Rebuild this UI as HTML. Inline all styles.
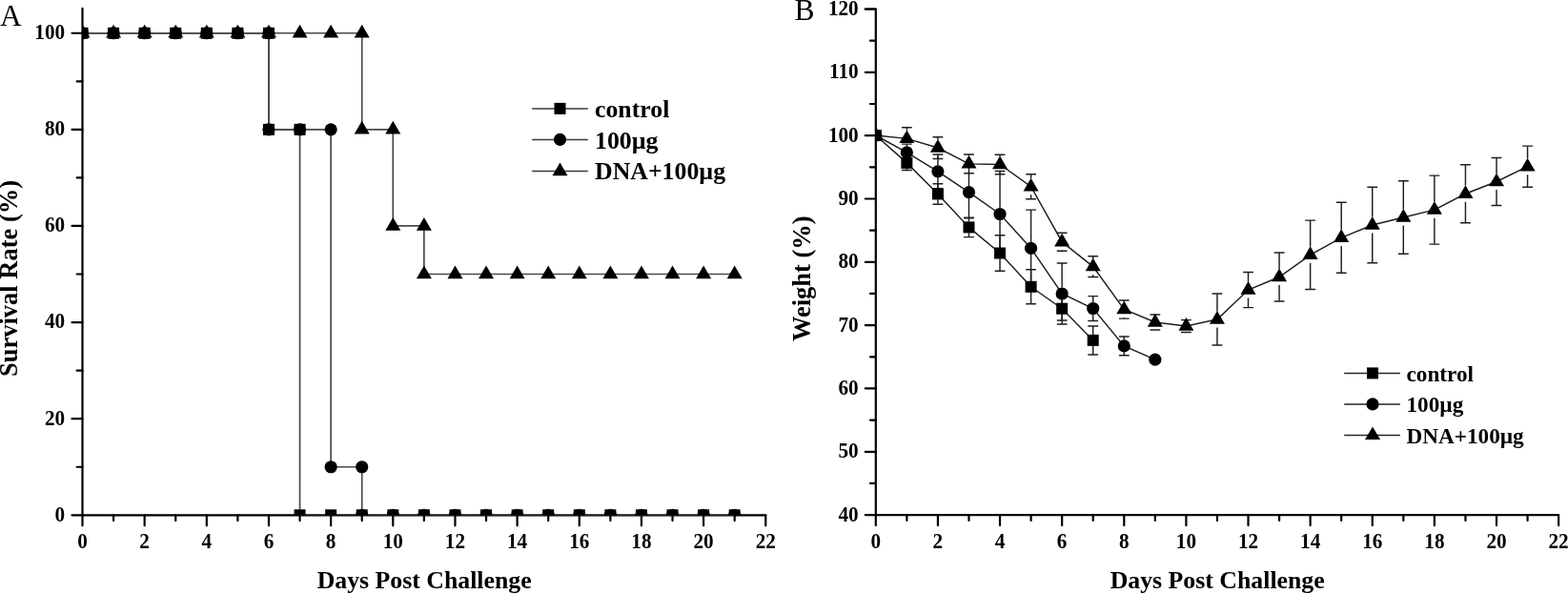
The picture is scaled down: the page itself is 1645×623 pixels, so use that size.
<!DOCTYPE html>
<html><head><meta charset="utf-8"><title>Survival and weight</title>
<style>
html,body{margin:0;padding:0;background:#fff;}
body{width:1645px;height:623px;overflow:hidden;}
svg{display:block;}
text{font-family:"Liberation Serif","Times New Roman",serif;fill:#000;}
.b{font-weight:bold;}
</style></head><body>
<svg width="1645" height="623" viewBox="0 0 1645 623">
<defs>
<clipPath id="clipA"><rect x="86.5" y="0" width="760" height="540.3"/></clipPath>
<clipPath id="clipB"><rect x="918.8" y="0" width="760" height="540.1"/></clipPath>
</defs>

<g fill="none" stroke="#000" stroke-width="2.2" stroke-linecap="round" stroke-linejoin="round">
<path d="M86.5,8.8 V540.3 H803.26"/>
<path d="M75.5,540.3 H86.5"/>
<path d="M80.7,489.74 H86.5"/>
<path d="M75.5,439.19 H86.5"/>
<path d="M80.7,388.63 H86.5"/>
<path d="M75.5,338.08 H86.5"/>
<path d="M80.7,287.52 H86.5"/>
<path d="M75.5,236.97 H86.5"/>
<path d="M80.7,186.41 H86.5"/>
<path d="M75.5,135.86 H86.5"/>
<path d="M80.7,85.3 H86.5"/>
<path d="M75.5,34.75 H86.5"/>
<path d="M86.5,540.3 V551.3"/>
<path d="M119.08,540.3 V546.1"/>
<path d="M151.66,540.3 V551.3"/>
<path d="M184.24,540.3 V546.1"/>
<path d="M216.82,540.3 V551.3"/>
<path d="M249.4,540.3 V546.1"/>
<path d="M281.98,540.3 V551.3"/>
<path d="M314.56,540.3 V546.1"/>
<path d="M347.14,540.3 V551.3"/>
<path d="M379.72,540.3 V546.1"/>
<path d="M412.3,540.3 V551.3"/>
<path d="M444.88,540.3 V546.1"/>
<path d="M477.46,540.3 V551.3"/>
<path d="M510.04,540.3 V546.1"/>
<path d="M542.62,540.3 V551.3"/>
<path d="M575.2,540.3 V546.1"/>
<path d="M607.78,540.3 V551.3"/>
<path d="M640.36,540.3 V546.1"/>
<path d="M672.94,540.3 V551.3"/>
<path d="M705.52,540.3 V546.1"/>
<path d="M738.1,540.3 V551.3"/>
<path d="M770.68,540.3 V546.1"/>
<path d="M803.26,540.3 V551.3"/>
</g>
<g class="b" font-size="22" text-anchor="end">
<text transform="translate(68.1,546.7) scale(0.965,1.06)">0</text>
<text transform="translate(68.1,445.59) scale(0.965,1.06)">20</text>
<text transform="translate(68.1,344.48) scale(0.965,1.06)">40</text>
<text transform="translate(68.1,243.37) scale(0.965,1.06)">60</text>
<text transform="translate(68.1,142.26) scale(0.965,1.06)">80</text>
<text transform="translate(68.1,41.15) scale(0.965,1.06)">100</text>
</g>
<g class="b" font-size="22" text-anchor="middle">
<text transform="translate(86.5,574.7) scale(0.965,1.06)">0</text>
<text transform="translate(151.66,574.7) scale(0.965,1.06)">2</text>
<text transform="translate(216.82,574.7) scale(0.965,1.06)">4</text>
<text transform="translate(281.98,574.7) scale(0.965,1.06)">6</text>
<text transform="translate(347.14,574.7) scale(0.965,1.06)">8</text>
<text transform="translate(412.3,574.7) scale(0.965,1.06)">10</text>
<text transform="translate(477.46,574.7) scale(0.965,1.06)">12</text>
<text transform="translate(542.62,574.7) scale(0.965,1.06)">14</text>
<text transform="translate(607.78,574.7) scale(0.965,1.06)">16</text>
<text transform="translate(672.94,574.7) scale(0.965,1.06)">18</text>
<text transform="translate(738.1,574.7) scale(0.965,1.06)">20</text>
<text transform="translate(803.26,574.7) scale(0.965,1.06)">22</text>
</g>
<text class="b" font-size="25.8" x="445.15" y="616.9" text-anchor="middle">Days Post Challenge</text>
<text class="b" font-size="26.5" transform="translate(18.4,292) rotate(-90)" text-anchor="middle">Survival Rate (%)</text>
<text font-size="31.5" x="0" y="27.2">A</text>
<g clip-path="url(#clipA)">
<g fill="none" stroke="#4a4a4a" stroke-width="1.7">
<path d="M86.5,34.75 L119.08,34.75 L151.66,34.75 L184.24,34.75 L216.82,34.75 L249.4,34.75 L281.98,34.75 L281.98,135.86 L314.56,135.86 L314.56,540.3 L347.14,540.3 L379.72,540.3 L412.3,540.3 L444.88,540.3 L477.46,540.3 L510.04,540.3 L542.62,540.3 L575.2,540.3 L607.78,540.3 L640.36,540.3 L672.94,540.3 L705.52,540.3 L738.1,540.3 L770.68,540.3"/>
<path d="M86.5,34.75 L119.08,34.75 L151.66,34.75 L184.24,34.75 L216.82,34.75 L249.4,34.75 L281.98,34.75 L281.98,135.86 L314.56,135.86 L347.14,135.86 L347.14,489.74 L379.72,489.74 L379.72,540.3 L412.3,540.3 L444.88,540.3 L477.46,540.3 L510.04,540.3 L542.62,540.3 L575.2,540.3 L607.78,540.3 L640.36,540.3 L672.94,540.3 L705.52,540.3 L738.1,540.3 L770.68,540.3"/>
<path d="M86.5,34.75 L119.08,34.75 L151.66,34.75 L184.24,34.75 L216.82,34.75 L249.4,34.75 L281.98,34.75 L314.56,34.75 L347.14,34.75 L379.72,34.75 L379.72,135.86 L412.3,135.86 L412.3,236.97 L444.88,236.97 L444.88,287.52 L477.46,287.52 L510.04,287.52 L542.62,287.52 L575.2,287.52 L607.78,287.52 L640.36,287.52 L672.94,287.52 L705.52,287.52 L738.1,287.52 L770.68,287.52"/>
</g>
<g fill="#000">
<rect x="80.5" y="28.75" width="12" height="12"/>
<rect x="113.08" y="28.75" width="12" height="12"/>
<rect x="145.66" y="28.75" width="12" height="12"/>
<rect x="178.24" y="28.75" width="12" height="12"/>
<rect x="210.82" y="28.75" width="12" height="12"/>
<rect x="243.4" y="28.75" width="12" height="12"/>
<rect x="275.98" y="28.75" width="12" height="12"/>
<rect x="275.98" y="129.86" width="12" height="12"/>
<rect x="308.56" y="129.86" width="12" height="12"/>
<rect x="308.56" y="534.3" width="12" height="12"/>
<rect x="341.14" y="534.3" width="12" height="12"/>
<rect x="373.72" y="534.3" width="12" height="12"/>
<rect x="406.3" y="534.3" width="12" height="12"/>
<rect x="438.88" y="534.3" width="12" height="12"/>
<rect x="471.46" y="534.3" width="12" height="12"/>
<rect x="504.04" y="534.3" width="12" height="12"/>
<rect x="536.62" y="534.3" width="12" height="12"/>
<rect x="569.2" y="534.3" width="12" height="12"/>
<rect x="601.78" y="534.3" width="12" height="12"/>
<rect x="634.36" y="534.3" width="12" height="12"/>
<rect x="666.94" y="534.3" width="12" height="12"/>
<rect x="699.52" y="534.3" width="12" height="12"/>
<rect x="732.1" y="534.3" width="12" height="12"/>
<rect x="764.68" y="534.3" width="12" height="12"/>
<circle cx="86.5" cy="34.75" r="6.6"/>
<circle cx="119.08" cy="34.75" r="6.6"/>
<circle cx="151.66" cy="34.75" r="6.6"/>
<circle cx="184.24" cy="34.75" r="6.6"/>
<circle cx="216.82" cy="34.75" r="6.6"/>
<circle cx="249.4" cy="34.75" r="6.6"/>
<circle cx="281.98" cy="34.75" r="6.6"/>
<circle cx="281.98" cy="135.86" r="6.6"/>
<circle cx="314.56" cy="135.86" r="6.6"/>
<circle cx="347.14" cy="135.86" r="6.6"/>
<circle cx="347.14" cy="489.74" r="6.6"/>
<circle cx="379.72" cy="489.74" r="6.6"/>
<circle cx="379.72" cy="540.3" r="6.6"/>
<circle cx="412.3" cy="540.3" r="6.6"/>
<circle cx="444.88" cy="540.3" r="6.6"/>
<circle cx="477.46" cy="540.3" r="6.6"/>
<circle cx="510.04" cy="540.3" r="6.6"/>
<circle cx="542.62" cy="540.3" r="6.6"/>
<circle cx="575.2" cy="540.3" r="6.6"/>
<circle cx="607.78" cy="540.3" r="6.6"/>
<circle cx="640.36" cy="540.3" r="6.6"/>
<circle cx="672.94" cy="540.3" r="6.6"/>
<circle cx="705.52" cy="540.3" r="6.6"/>
<circle cx="738.1" cy="540.3" r="6.6"/>
<circle cx="770.68" cy="540.3" r="6.6"/>
<polygon points="86.5,25.75 94.5,39.45 78.5,39.45"/>
<polygon points="119.08,25.75 127.08,39.45 111.08,39.45"/>
<polygon points="151.66,25.75 159.66,39.45 143.66,39.45"/>
<polygon points="184.24,25.75 192.24,39.45 176.24,39.45"/>
<polygon points="216.82,25.75 224.82,39.45 208.82,39.45"/>
<polygon points="249.4,25.75 257.4,39.45 241.4,39.45"/>
<polygon points="281.98,25.75 289.98,39.45 273.98,39.45"/>
<polygon points="314.56,25.75 322.56,39.45 306.56,39.45"/>
<polygon points="347.14,25.75 355.14,39.45 339.14,39.45"/>
<polygon points="379.72,25.75 387.72,39.45 371.72,39.45"/>
<polygon points="379.72,126.86 387.72,140.56 371.72,140.56"/>
<polygon points="412.3,126.86 420.3,140.56 404.3,140.56"/>
<polygon points="412.3,227.97 420.3,241.67 404.3,241.67"/>
<polygon points="444.88,227.97 452.88,241.67 436.88,241.67"/>
<polygon points="444.88,278.52 452.88,292.22 436.88,292.22"/>
<polygon points="477.46,278.52 485.46,292.22 469.46,292.22"/>
<polygon points="510.04,278.52 518.04,292.22 502.04,292.22"/>
<polygon points="542.62,278.52 550.62,292.22 534.62,292.22"/>
<polygon points="575.2,278.52 583.2,292.22 567.2,292.22"/>
<polygon points="607.78,278.52 615.78,292.22 599.78,292.22"/>
<polygon points="640.36,278.52 648.36,292.22 632.36,292.22"/>
<polygon points="672.94,278.52 680.94,292.22 664.94,292.22"/>
<polygon points="705.52,278.52 713.52,292.22 697.52,292.22"/>
<polygon points="738.1,278.52 746.1,292.22 730.1,292.22"/>
<polygon points="770.68,278.52 778.68,292.22 762.68,292.22"/>
</g></g>
<g fill="none" stroke="#3a3a3a" stroke-width="1.5">
<path d="M558.2,113.9 H616.8"/>
<path d="M558.2,146.4 H616.8"/>
<path d="M558.2,179.6 H616.8"/>
</g><g fill="#000">
<rect x="581.5" y="107.9" width="12" height="12"/>
<circle cx="587.5" cy="146.4" r="6.6"/>
<polygon points="587.5,170.6 595.5,184.3 579.5,184.3"/>
</g>
<g class="b" font-size="25.8">
<text x="624" y="122.6">control</text>
<text x="624" y="155.7">100µg</text>
<text x="624" y="187.9">DNA+100µg</text>
</g>
<g fill="none" stroke="#000" stroke-width="2.2" stroke-linecap="round" stroke-linejoin="round">
<path d="M907.8,9.5 H918.8 V540.1 H1635.12"/>
<path d="M907.8,540.1 H918.8"/>
<path d="M913,506.94 H918.8"/>
<path d="M907.8,473.78 H918.8"/>
<path d="M913,440.61 H918.8"/>
<path d="M907.8,407.45 H918.8"/>
<path d="M913,374.29 H918.8"/>
<path d="M907.8,341.12 H918.8"/>
<path d="M913,307.96 H918.8"/>
<path d="M907.8,274.8 H918.8"/>
<path d="M913,241.64 H918.8"/>
<path d="M907.8,208.48 H918.8"/>
<path d="M913,175.31 H918.8"/>
<path d="M907.8,142.15 H918.8"/>
<path d="M913,108.99 H918.8"/>
<path d="M907.8,75.82 H918.8"/>
<path d="M913,42.66 H918.8"/>
<path d="M907.8,9.5 H918.8"/>
<path d="M918.8,540.1 V551.1"/>
<path d="M951.36,540.1 V545.9"/>
<path d="M983.92,540.1 V551.1"/>
<path d="M1016.48,540.1 V545.9"/>
<path d="M1049.04,540.1 V551.1"/>
<path d="M1081.6,540.1 V545.9"/>
<path d="M1114.16,540.1 V551.1"/>
<path d="M1146.72,540.1 V545.9"/>
<path d="M1179.28,540.1 V551.1"/>
<path d="M1211.84,540.1 V545.9"/>
<path d="M1244.4,540.1 V551.1"/>
<path d="M1276.96,540.1 V545.9"/>
<path d="M1309.52,540.1 V551.1"/>
<path d="M1342.08,540.1 V545.9"/>
<path d="M1374.64,540.1 V551.1"/>
<path d="M1407.2,540.1 V545.9"/>
<path d="M1439.76,540.1 V551.1"/>
<path d="M1472.32,540.1 V545.9"/>
<path d="M1504.88,540.1 V551.1"/>
<path d="M1537.44,540.1 V545.9"/>
<path d="M1570,540.1 V551.1"/>
<path d="M1602.56,540.1 V545.9"/>
<path d="M1635.12,540.1 V551.1"/>
</g>
<g class="b" font-size="22" text-anchor="end">
<text transform="translate(900.7,546.5) scale(0.965,1.06)">40</text>
<text transform="translate(900.7,480.18) scale(0.965,1.06)">50</text>
<text transform="translate(900.7,413.85) scale(0.965,1.06)">60</text>
<text transform="translate(900.7,347.52) scale(0.965,1.06)">70</text>
<text transform="translate(900.7,281.2) scale(0.965,1.06)">80</text>
<text transform="translate(900.7,214.88) scale(0.965,1.06)">90</text>
<text transform="translate(900.7,148.55) scale(0.965,1.06)">100</text>
<text transform="translate(900.7,82.22) scale(0.965,1.06)">110</text>
<text transform="translate(900.7,15.9) scale(0.965,1.06)">120</text>
</g>
<g class="b" font-size="22" text-anchor="middle">
<text transform="translate(918.8,574.7) scale(0.965,1.06)">0</text>
<text transform="translate(983.92,574.7) scale(0.965,1.06)">2</text>
<text transform="translate(1049.04,574.7) scale(0.965,1.06)">4</text>
<text transform="translate(1114.16,574.7) scale(0.965,1.06)">6</text>
<text transform="translate(1179.28,574.7) scale(0.965,1.06)">8</text>
<text transform="translate(1244.4,574.7) scale(0.965,1.06)">10</text>
<text transform="translate(1309.52,574.7) scale(0.965,1.06)">12</text>
<text transform="translate(1374.64,574.7) scale(0.965,1.06)">14</text>
<text transform="translate(1439.76,574.7) scale(0.965,1.06)">16</text>
<text transform="translate(1504.88,574.7) scale(0.965,1.06)">18</text>
<text transform="translate(1570,574.7) scale(0.965,1.06)">20</text>
<text transform="translate(1635.12,574.7) scale(0.965,1.06)">22</text>
</g>
<text class="b" font-size="25.8" x="1277.2" y="616.9" text-anchor="middle">Days Post Challenge</text>
<text class="b" font-size="26.5" transform="translate(850.3,292.2) rotate(-90)" text-anchor="middle">Weight (%)</text>
<text font-size="31.5" x="833.5" y="21.2">B</text>
<g clip-path="url(#clipB)">
<g fill="none" stroke="#1e1e1e" stroke-width="1.45">
<path d="M951.36,163.3 V165.1 M951.36,176.7 V178.5 M945.96,163.3 H956.76 M945.96,178.5 H956.76 M983.92,192.7 V197.65 M983.92,209.25 V214.2 M978.52,192.7 H989.32 M978.52,214.2 H989.32 M1016.48,228.2 V232.6 M1016.48,244.2 V248.6 M1011.08,228.2 H1021.88 M1011.08,248.6 H1021.88 M1049.04,246.7 V259.7 M1049.04,271.3 V284.3 M1043.64,246.7 H1054.44 M1043.64,284.3 H1054.44 M1081.6,282.8 V295 M1081.6,306.6 V318.8 M1076.2,282.8 H1087 M1076.2,318.8 H1087 M1114.16,311.5 V317.9 M1114.16,329.5 V335.9 M1108.76,311.5 H1119.56 M1108.76,335.9 H1119.56 M1146.72,341.9 V351.1 M1146.72,362.7 V371.9 M1141.32,341.9 H1152.12 M1141.32,371.9 H1152.12"/>
<path d="M951.36,151.1 V153.5 M951.36,166.3 V168.7 M945.96,151.1 H956.76 M945.96,168.7 H956.76 M983.92,161.9 V173.4 M983.92,186.2 V197.7 M978.52,161.9 H989.32 M978.52,197.7 H989.32 M1016.48,174.7 V195.3 M1016.48,208.1 V228.7 M1011.08,174.7 H1021.88 M1011.08,228.7 H1021.88 M1049.04,179.5 V218.1 M1049.04,230.9 V269.5 M1043.64,179.5 H1054.44 M1043.64,269.5 H1054.44 M1081.6,220.1 V254 M1081.6,266.8 V300.7 M1076.2,220.1 H1087 M1076.2,300.7 H1087 M1114.16,276 V301.6 M1114.16,314.4 V340 M1108.76,276 H1119.56 M1108.76,340 H1119.56 M1146.72,310.6 V317.1 M1146.72,329.9 V336.4 M1141.32,310.6 H1152.12 M1141.32,336.4 H1152.12 M1179.28,353 V356.5 M1179.28,369.3 V372.8 M1173.88,353 H1184.68 M1173.88,372.8 H1184.68"/>
<path d="M951.36,133.8 V136.8 M951.36,154 V157 M945.96,133.8 H956.76 M945.96,157 H956.76 M983.92,143.7 V146.45 M983.92,163.65 V166.4 M978.52,143.7 H989.32 M978.52,166.4 H989.32 M1016.48,161.95 V163.25 M1016.48,180.45 V181.75 M1011.08,161.95 H1021.88 M1011.08,181.75 H1021.88 M1049.04,162.3 V163.9 M1049.04,181.1 V182.7 M1043.64,162.3 H1054.44 M1043.64,182.7 H1054.44 M1081.6,182.7 V187.1 M1081.6,204.3 V208.7 M1076.2,182.7 H1087 M1076.2,208.7 H1087 M1114.16,244.2 V245.1 M1114.16,262.3 V263.2 M1108.76,244.2 H1119.56 M1108.76,263.2 H1119.56 M1146.72,268.8 V271 M1146.72,288.2 V290.4 M1141.32,268.8 H1152.12 M1141.32,290.4 H1152.12 M1179.28,314.9 V315.9 M1179.28,333.1 V334.1 M1173.88,314.9 H1184.68 M1173.88,334.1 H1184.68 M1206.44,330 H1217.24 M1206.44,346 H1217.24 M1239,335.6 H1249.8 M1239,348.4 H1249.8 M1276.96,308 V326.4 M1276.96,343.6 V362 M1271.56,308 H1282.36 M1271.56,362 H1282.36 M1309.52,285.4 V295.4 M1309.52,312.6 V322.6 M1304.12,285.4 H1314.92 M1304.12,322.6 H1314.92 M1342.08,265 V281.9 M1342.08,299.1 V316 M1336.68,265 H1347.48 M1336.68,316 H1347.48 M1374.64,231.1 V258.7 M1374.64,275.9 V303.5 M1369.24,231.1 H1380.04 M1369.24,303.5 H1380.04 M1407.2,212.3 V240.7 M1407.2,257.9 V286.3 M1401.8,212.3 H1412.6 M1401.8,286.3 H1412.6 M1439.76,196.3 V227.4 M1439.76,244.6 V275.7 M1434.36,196.3 H1445.16 M1434.36,275.7 H1445.16 M1472.32,189.8 V219.4 M1472.32,236.6 V266.2 M1466.92,189.8 H1477.72 M1466.92,266.2 H1477.72 M1504.88,184.1 V211.5 M1504.88,228.7 V256.1 M1499.48,184.1 H1510.28 M1499.48,256.1 H1510.28 M1537.44,172.7 V194.6 M1537.44,211.8 V233.7 M1532.04,172.7 H1542.84 M1532.04,233.7 H1542.84 M1570,165.5 V181.9 M1570,199.1 V215.5 M1564.6,165.5 H1575.4 M1564.6,215.5 H1575.4 M1602.56,153.1 V166.1 M1602.56,183.3 V196.3 M1597.16,153.1 H1607.96 M1597.16,196.3 H1607.96"/>
<path d="M918.8,142 L951.36,170.9 L983.92,203.45 L1016.48,238.4 L1049.04,265.5 L1081.6,300.8 L1114.16,323.7 L1146.72,356.9"/>
<path d="M918.8,142 L951.36,159.9 L983.92,179.8 L1016.48,201.7 L1049.04,224.5 L1081.6,260.4 L1114.16,308 L1146.72,323.5 L1179.28,362.9 L1211.84,377.2"/>
<path d="M918.8,142 L951.36,145.4 L983.92,155.05 L1016.48,171.85 L1049.04,172.5 L1081.6,195.7 L1114.16,253.7 L1146.72,279.6 L1179.28,324.5 L1211.84,338 L1244.4,342 L1276.96,335 L1309.52,304 L1342.08,290.5 L1374.64,267.3 L1407.2,249.3 L1439.76,236 L1472.32,228 L1504.88,220.1 L1537.44,203.2 L1570,190.5 L1602.56,174.7"/>
</g><g fill="#000">
<rect x="912.8" y="136" width="12" height="12"/>
<rect x="945.36" y="164.9" width="12" height="12"/>
<rect x="977.92" y="197.45" width="12" height="12"/>
<rect x="1010.48" y="232.4" width="12" height="12"/>
<rect x="1043.04" y="259.5" width="12" height="12"/>
<rect x="1075.6" y="294.8" width="12" height="12"/>
<rect x="1108.16" y="317.7" width="12" height="12"/>
<rect x="1140.72" y="350.9" width="12" height="12"/>
<circle cx="918.8" cy="142" r="6.6"/>
<circle cx="951.36" cy="159.9" r="6.6"/>
<circle cx="983.92" cy="179.8" r="6.6"/>
<circle cx="1016.48" cy="201.7" r="6.6"/>
<circle cx="1049.04" cy="224.5" r="6.6"/>
<circle cx="1081.6" cy="260.4" r="6.6"/>
<circle cx="1114.16" cy="308" r="6.6"/>
<circle cx="1146.72" cy="323.5" r="6.6"/>
<circle cx="1179.28" cy="362.9" r="6.6"/>
<circle cx="1211.84" cy="377.2" r="6.6"/>
<polygon points="918.8,133 926.8,146.7 910.8,146.7"/>
<polygon points="951.36,136.4 959.36,150.1 943.36,150.1"/>
<polygon points="983.92,146.05 991.92,159.75 975.92,159.75"/>
<polygon points="1016.48,162.85 1024.48,176.55 1008.48,176.55"/>
<polygon points="1049.04,163.5 1057.04,177.2 1041.04,177.2"/>
<polygon points="1081.6,186.7 1089.6,200.4 1073.6,200.4"/>
<polygon points="1114.16,244.7 1122.16,258.4 1106.16,258.4"/>
<polygon points="1146.72,270.6 1154.72,284.3 1138.72,284.3"/>
<polygon points="1179.28,315.5 1187.28,329.2 1171.28,329.2"/>
<polygon points="1211.84,329 1219.84,342.7 1203.84,342.7"/>
<polygon points="1244.4,333 1252.4,346.7 1236.4,346.7"/>
<polygon points="1276.96,326 1284.96,339.7 1268.96,339.7"/>
<polygon points="1309.52,295 1317.52,308.7 1301.52,308.7"/>
<polygon points="1342.08,281.5 1350.08,295.2 1334.08,295.2"/>
<polygon points="1374.64,258.3 1382.64,272 1366.64,272"/>
<polygon points="1407.2,240.3 1415.2,254 1399.2,254"/>
<polygon points="1439.76,227 1447.76,240.7 1431.76,240.7"/>
<polygon points="1472.32,219 1480.32,232.7 1464.32,232.7"/>
<polygon points="1504.88,211.1 1512.88,224.8 1496.88,224.8"/>
<polygon points="1537.44,194.2 1545.44,207.9 1529.44,207.9"/>
<polygon points="1570,181.5 1578,195.2 1562,195.2"/>
<polygon points="1602.56,165.7 1610.56,179.4 1594.56,179.4"/>
</g></g>
<g fill="none" stroke="#262626" stroke-width="1.45">
<path d="M1410.2,391.4 H1468.9"/>
<path d="M1410.2,423.9 H1468.9"/>
<path d="M1410.2,456.4 H1468.9"/>
</g><g fill="#000">
<rect x="1434" y="385.4" width="12" height="12"/>
<circle cx="1440" cy="423.9" r="6.6"/>
<polygon points="1440,447.4 1448,461.1 1432,461.1"/>
</g>
<g class="b" font-size="23.2">
<text x="1475.5" y="400.4">control</text>
<text x="1475.5" y="432.2">100µg</text>
<text x="1475.5" y="464.5">DNA+100µg</text>
</g>
</svg>
</body></html>
